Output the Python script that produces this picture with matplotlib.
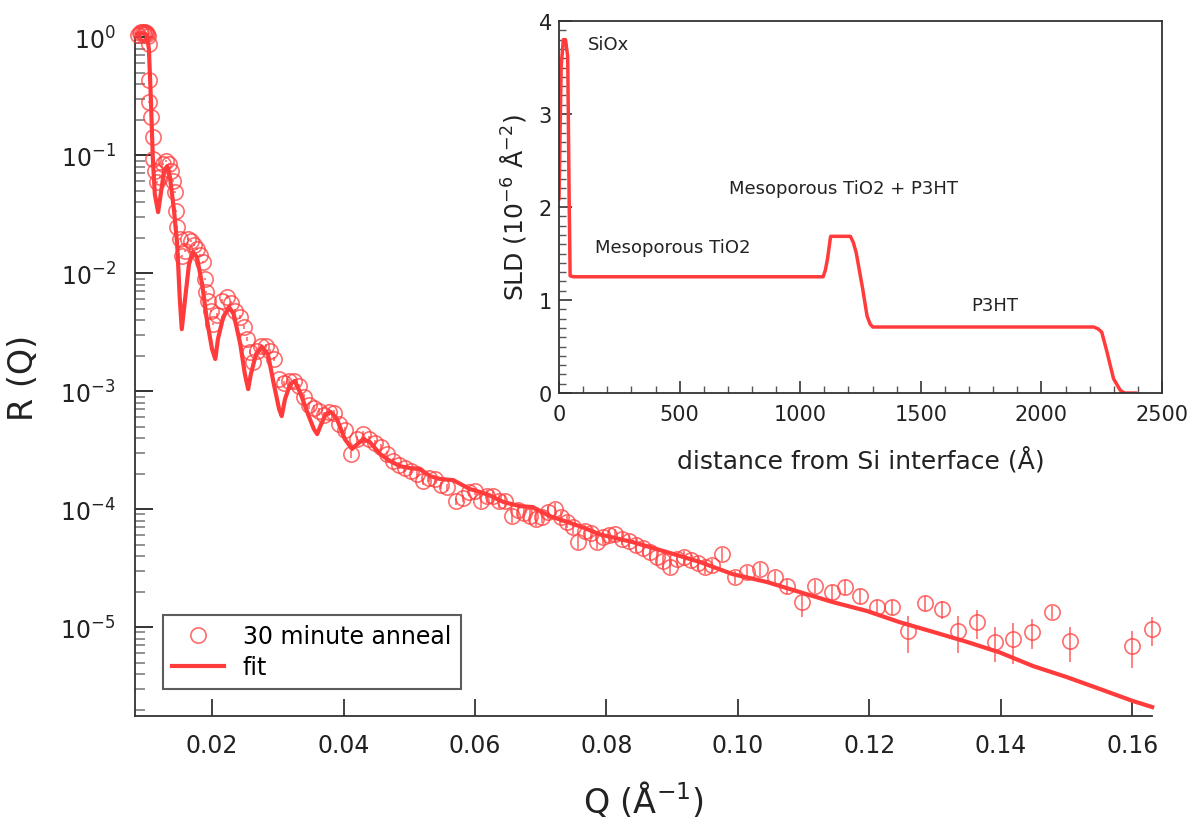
import numpy as np
import matplotlib
matplotlib.use("Agg")
import matplotlib.pyplot as plt
from matplotlib.ticker import LogLocator, MultipleLocator, FormatStrFormatter, NullFormatter

plt.rcParams['font.family'] = ['DejaVu Sans']

RED = '#ff3b3b'

# reflectivity data, 30 minute anneal
q_data = [0.0087, 0.0090, 0.0092, 0.0095, 0.0097, 0.0098, 0.0100, 0.0101, 0.0103, 0.0104,
          0.0104, 0.0104, 0.0107, 0.0110, 0.0110, 0.0113, 0.0116, 0.0121, 0.0125, 0.0130,
          0.0135, 0.0138, 0.0141, 0.0144, 0.0145, 0.0147, 0.0151, 0.0154, 0.0159, 0.0164,
          0.0168, 0.0173, 0.0177, 0.0182, 0.0186, 0.0189, 0.0191, 0.0194, 0.0198, 0.0202,
          0.0208, 0.0215, 0.0223, 0.0229, 0.0235, 0.0243, 0.0249, 0.0253, 0.0258, 0.0262,
          0.0268, 0.0275, 0.0282, 0.0288, 0.0294, 0.0302, 0.0310, 0.0317, 0.0325, 0.0332,
          0.0340, 0.0348, 0.0355, 0.0363, 0.0370, 0.0378, 0.0386, 0.0393, 0.0402, 0.0411,
          0.0421, 0.0430, 0.0439, 0.0448, 0.0457, 0.0466, 0.0475, 0.0484, 0.0494, 0.0503,
          0.0512, 0.0521, 0.0530, 0.0539, 0.0548, 0.0557, 0.0571, 0.0582, 0.0591, 0.0600,
          0.0609, 0.0618, 0.0627, 0.0637, 0.0646, 0.0656, 0.0665, 0.0675, 0.0684, 0.0693,
          0.0702, 0.0711, 0.0722, 0.0731, 0.0740, 0.0749, 0.0757, 0.0767, 0.0776, 0.0786,
          0.0795, 0.0804, 0.0813, 0.0824, 0.0834, 0.0845, 0.0856, 0.0866, 0.0877, 0.0886,
          0.0897, 0.0907, 0.0918, 0.0929, 0.0939, 0.0950, 0.0960, 0.0976, 0.0995, 0.1014,
          0.1033, 0.1056, 0.1075, 0.1097, 0.1117, 0.1143, 0.1163, 0.1186, 0.1211, 0.1234,
          0.1259, 0.1284, 0.1310, 0.1335, 0.1364, 0.1391, 0.1418, 0.1447, 0.1478, 0.1505,
          0.1599, 0.1630]
r_data = [1.04, 1.08, 1.10, 1.10, 1.06, 1.10, 1.08, 1.06, 1.02, 0.87,
          0.43, 0.28, 0.21, 0.142, 0.0925, 0.0732, 0.059, 0.0651, 0.0839, 0.0889,
          0.0839, 0.0732, 0.0602, 0.0486, 0.0335, 0.0245, 0.0194, 0.0139, 0.0154, 0.0194,
          0.0187, 0.0173, 0.0160, 0.0142, 0.0124, 0.0089, 0.0069, 0.00579, 0.00476, 0.0037,
          0.00441, 0.00579, 0.00626, 0.00557, 0.00476, 0.00424, 0.00349, 0.00276, 0.00214, 0.00176,
          0.00218, 0.00241, 0.00241, 0.00218, 0.00187, 0.00126, 0.00117, 0.00122, 0.00122, 0.00110,
          8.9e-4, 7.61e-4, 7.18e-4, 6.77e-4, 6.26e-4, 6.64e-4, 6.51e-4, 5.25e-4, 4.67e-4, 2.92e-4,
          3.92e-4, 4.32e-4, 3.92e-4, 3.63e-4, 3.35e-4, 2.92e-4, 2.55e-4, 2.36e-4, 2.23e-4, 2.10e-4,
          1.98e-4, 1.73e-4, 1.83e-4, 1.80e-4, 1.60e-4, 1.54e-4, 1.17e-4, 1.24e-4, 1.39e-4, 1.42e-4,
          1.17e-4, 1.29e-4, 1.29e-4, 1.17e-4, 1.17e-4, 8.7e-5, 9.8e-5, 9.25e-5, 8.7e-5, 8.2e-5,
          8.6e-5, 9.4e-5, 1.0e-4, 8.6e-5, 7.8e-5, 7.0e-5, 5.25e-5, 6.5e-5, 6.3e-5, 5.25e-5,
          5.8e-5, 6.0e-5, 6.1e-5, 5.6e-5, 5.4e-5, 4.95e-5, 4.67e-5, 4.32e-5, 3.92e-5, 3.62e-5,
          3.23e-5, 3.77e-5, 3.92e-5, 3.70e-5, 3.49e-5, 3.23e-5, 3.35e-5, 4.16e-5, 2.65e-5, 2.92e-5,
          3.10e-5, 2.65e-5, 2.23e-5, 1.63e-5, 2.23e-5, 1.98e-5, 2.18e-5, 1.83e-5, 1.48e-5, 1.48e-5,
          9.25e-6, 1.60e-5, 1.42e-5, 9.25e-6, 1.10e-5, 7.5e-6, 7.9e-6, 9.1e-6, 1.34e-5, 7.6e-6,
          6.9e-6, 9.6e-6]
# relative error of each point
r_rel_err = [0.02] * 40 + [0.04] * 20 + [0.07] * 30 + [0.12] * 40 + \
            [0.12, 0.12, 0.15, 0.25, 0.12, 0.15, 0.15, 0.15, 0.15, 0.15,
             0.35, 0.15, 0.18, 0.35, 0.28, 0.33, 0.38, 0.28, 0.13, 0.33,
             0.35, 0.28]

# model fit
q_fit = [0.0086, 0.0094, 0.0101, 0.0104, 0.0107, 0.0110, 0.0113, 0.0118, 0.0122, 0.0127,
         0.0132, 0.0136, 0.0142, 0.0147, 0.0151, 0.0154, 0.0159, 0.0165, 0.0171, 0.0177,
         0.0185, 0.0192, 0.0200, 0.0205, 0.0209, 0.0217, 0.0226, 0.0233, 0.0243, 0.0250,
         0.0255, 0.0259, 0.0267, 0.0276, 0.0285, 0.0294, 0.0302, 0.0306, 0.0311, 0.0319,
         0.0326, 0.0335, 0.0346, 0.0355, 0.0360, 0.0366, 0.0373, 0.0381, 0.0390, 0.0402,
         0.0413, 0.0421, 0.0430, 0.0440, 0.0456, 0.0471, 0.0486, 0.0501, 0.0516, 0.0532,
         0.0547, 0.0567, 0.0592, 0.0618, 0.0643, 0.0668, 0.0688, 0.0714, 0.0740, 0.0764,
         0.0790, 0.0840, 0.0892, 0.0942, 0.0992, 0.1044, 0.1094, 0.1144, 0.1196, 0.1246,
         0.1297, 0.1348, 0.1398, 0.1449, 0.1500, 0.1551, 0.1601, 0.1630]
r_fit = [1.06, 1.08, 1.04, 0.79, 0.298, 0.0925, 0.0467, 0.0329, 0.0467, 0.0732,
         0.0807, 0.0651, 0.0349, 0.0176, 0.00602, 0.00335, 0.00602, 0.0119, 0.0151, 0.0137,
         0.00807, 0.00408, 0.00227, 0.00187, 0.00276, 0.00424, 0.00515, 0.00449, 0.00250, 0.00139,
         0.00104, 0.00139, 0.00206, 0.00236, 0.00206, 0.00115, 7.04e-4, 6.14e-4, 8.55e-4, 1.15e-3,
         1.22e-3, 9.43e-4, 6.38e-4, 4.76e-4, 4.32e-4, 5.25e-4, 6.38e-4, 6.64e-4, 5.79e-4, 3.92e-4,
         3.23e-4, 3.55e-4, 3.92e-4, 3.70e-4, 2.92e-4, 2.55e-4, 2.31e-4, 2.23e-4, 2.18e-4, 1.90e-4,
         1.80e-4, 1.76e-4, 1.48e-4, 1.34e-4, 1.15e-4, 1.06e-4, 1.04e-4, 8.7e-5, 7.8e-5, 7.0e-5,
         6.1e-5, 5.25e-5, 4.32e-5, 3.56e-5, 2.81e-5, 2.41e-5, 1.98e-5, 1.63e-5, 1.37e-5, 1.10e-5,
         9.1e-6, 7.5e-6, 6.1e-6, 4.67e-6, 3.77e-6, 2.98e-6, 2.36e-6, 2.10e-6]

# SLD profile (inset)
z_sld = [0, 9, 18, 27, 36, 42, 46, 60, 1095, 1104, 1113, 1126, 1208, 1220, 1232,
         1259, 1277, 1290, 1301, 2217, 2235, 2250, 2272, 2299, 2327, 2345, 2390]
sld = [2.09, 3.52, 3.80, 3.80, 3.62, 2.09, 1.26, 1.25, 1.25, 1.32, 1.44, 1.685, 1.685, 1.62, 1.51,
       1.12, 0.83, 0.74, 0.71, 0.71, 0.69, 0.655, 0.44, 0.154, 0.029, 0.0, 0.0]

layer_labels = ['SiOx', 'Mesoporous TiO2 + P3HT', 'Mesoporous TiO2', 'P3HT']
layer_pos = [(120, 3.75), (705, 2.21), (149, 1.57), (1708, 0.95)]

fig = plt.figure(figsize=(11.95, 8.29), dpi=100)

# main reflectivity panel
ax = fig.add_axes([0.113, 0.135, 0.851, 0.819])
q = np.array(q_data)
r = np.array(r_data)
ax.errorbar(q, r, yerr=r * np.array(r_rel_err), fmt='none', ecolor=RED,
            elinewidth=1.2, alpha=0.75, capsize=0, zorder=2, clip_on=False)
ax.plot(q, r, 'o', ms=11, mfc='none', mec=RED, mew=1.2, alpha=0.75,
        label='30 minute anneal', zorder=3, clip_on=False)
ax.plot(q_fit, r_fit, '-', color=RED, lw=3, label='fit', zorder=4, clip_on=False)

ax.set_yscale('log')
ax.set_xlim(0.00829, 0.16297)
ax.set_ylim(1.761e-6, 1.0)
ax.set_xticks([0.02, 0.04, 0.06, 0.08, 0.10, 0.12, 0.14, 0.16])
ax.xaxis.set_major_formatter(FormatStrFormatter('%.2f'))
ax.yaxis.set_major_locator(LogLocator(base=10, numticks=10))
ax.yaxis.set_minor_locator(LogLocator(base=10, subs=np.arange(2, 10), numticks=20))
ax.yaxis.set_minor_formatter(NullFormatter())
for s in ['top', 'right']:
    ax.spines[s].set_visible(False)
for s in ['left', 'bottom']:
    ax.spines[s].set_linewidth(1.3)
    ax.spines[s].set_color('#333333')
ax.tick_params(axis='x', which='major', direction='in', length=12, width=1.3,
               labelsize=17, pad=12, colors='#333333', labelcolor='#222222')
ax.tick_params(axis='y', which='major', direction='in', length=13, width=1.3,
               labelsize=17, pad=14, colors='#222222')
ax.tick_params(axis='y', which='minor', direction='in', length=7, width=1.3, color='#888888')
ax.set_xlabel('Q (Å$^{-1}$)', fontsize=24, labelpad=16, color='#222222')
ax.set_ylabel('R (Q)', fontsize=24, labelpad=14, color='#222222')

leg = ax.legend(loc='lower left', bbox_to_anchor=(0.136, 0.168),
                bbox_transform=fig.transFigure, fontsize=17, frameon=True,
                fancybox=False, borderaxespad=0, handlelength=2.2,
                borderpad=0.4, labelspacing=0.3, handletextpad=0.8)
leg.get_frame().set_edgecolor('#333333')
leg.get_frame().set_linewidth(1.5)

# inset SLD profile
ins = fig.add_axes([0.4678, 0.5247, 0.5046, 0.4487])
ins.plot(z_sld, sld, '-', color=RED, lw=2.5)
ins.set_xlim(0, 2500)
ins.set_ylim(0, 4)
ins.xaxis.set_major_locator(MultipleLocator(500))
ins.xaxis.set_minor_locator(MultipleLocator(100))
ins.yaxis.set_major_locator(MultipleLocator(1))
ins.yaxis.set_minor_locator(MultipleLocator(0.1))
ins.tick_params(which='major', direction='in', length=9, width=1.2,
                labelsize=15, colors='#333333', labelcolor='#222222')
ins.tick_params(which='minor', direction='in', length=5, width=1.0, color='#555555')
ins.tick_params(axis='x', pad=8)
ins.tick_params(axis='y', pad=5)
for s in ins.spines.values():
    s.set_linewidth(1.3)
    s.set_color('#333333')
ins.set_xlabel('distance from Si interface (Å)', fontsize=18, labelpad=16, color='#222222')
ins.set_ylabel('SLD (10$^{-6}$ Å$^{-2}$)', fontsize=18, labelpad=8, color='#222222')
for txt, (tx, ty) in zip(layer_labels, layer_pos):
    ins.text(tx, ty, txt, fontsize=13, color='#222222', ha='left', va='center')

fig.savefig('out.png', dpi=100)
